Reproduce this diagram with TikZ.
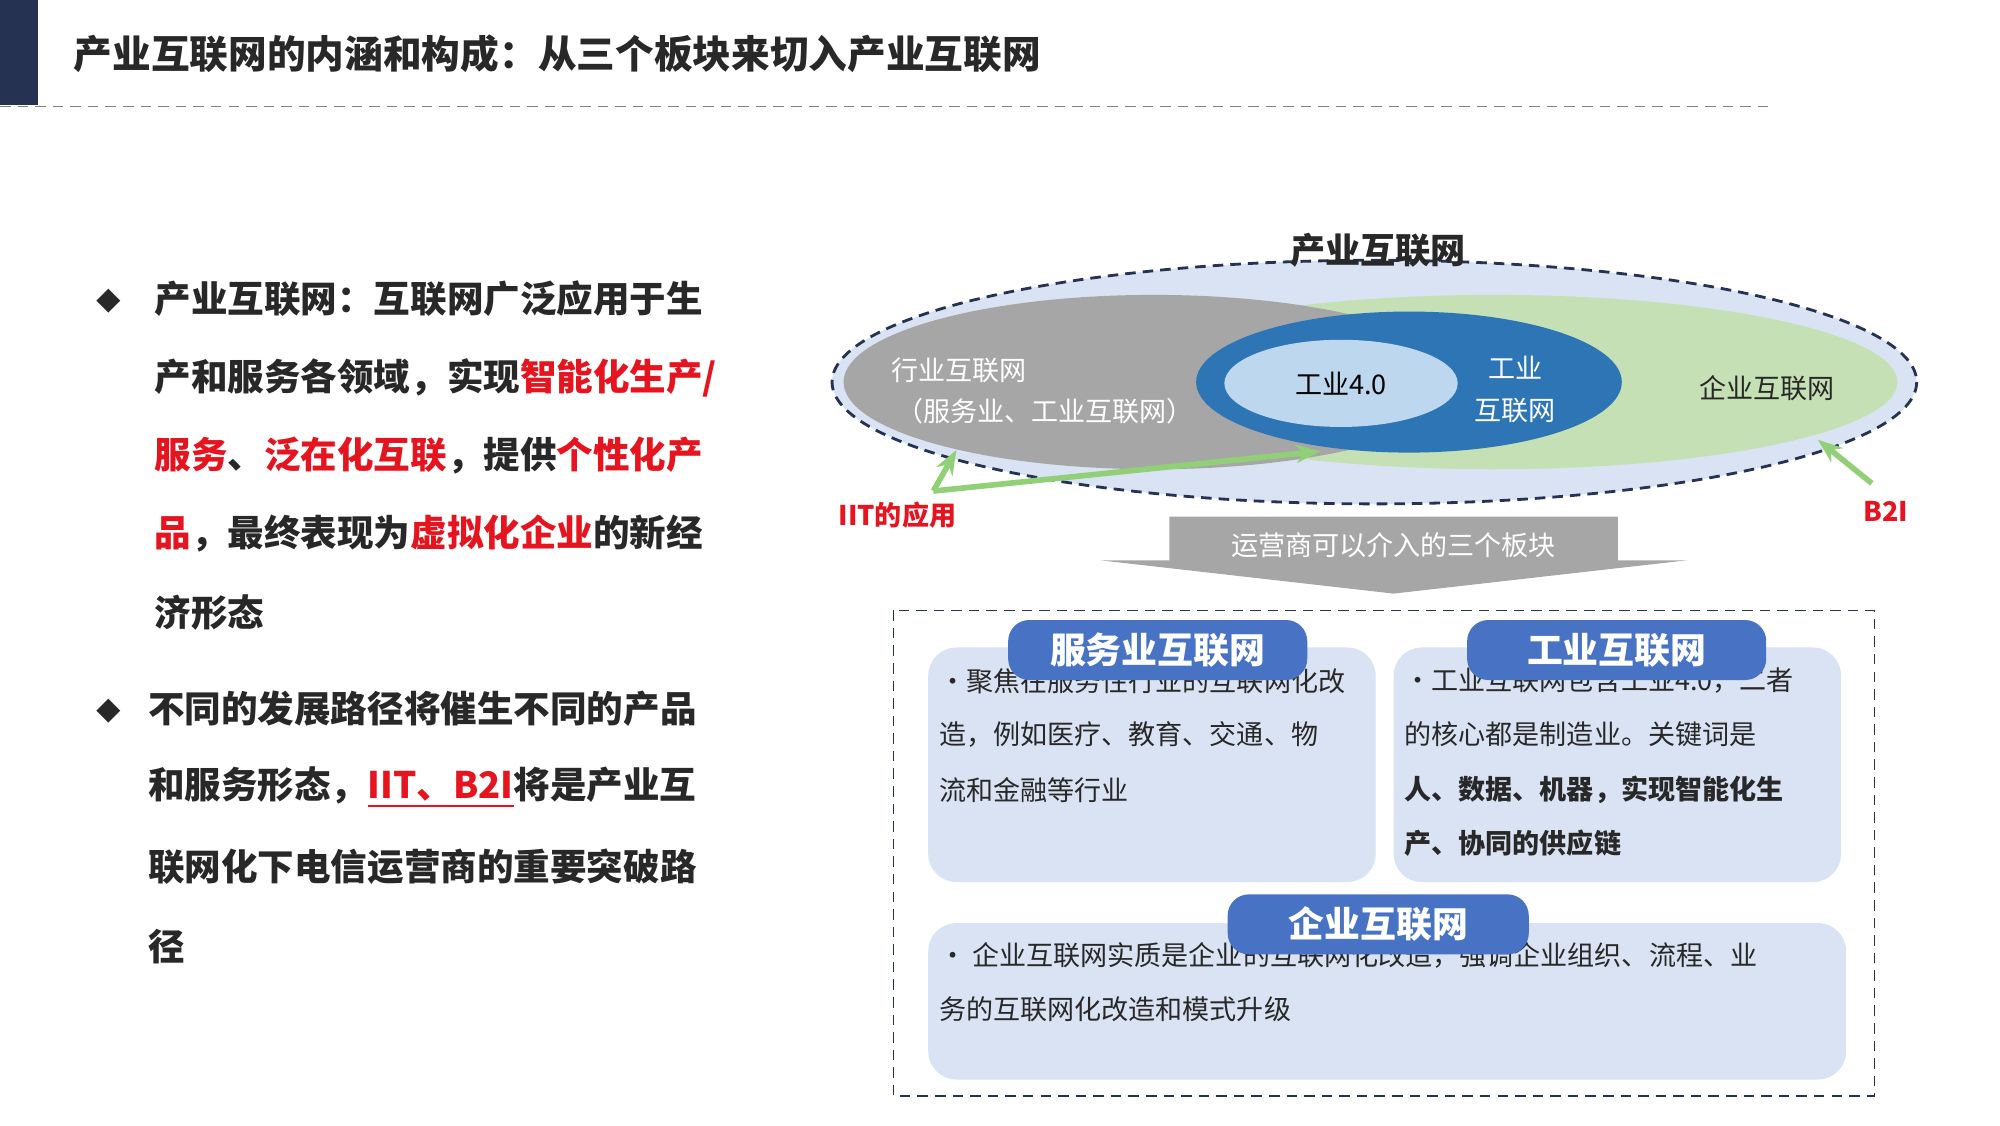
\documentclass[tikz,border=0pt]{standalone}
\usepackage{fontspec}
\setmainfont{Noto Sans CJK SC}
\usetikzlibrary{positioning,arrows.meta}
\definecolor{navy}{RGB}{38,50,82}
\definecolor{paleblue}{RGB}{218,227,243}
\definecolor{midblue}{RGB}{46,117,182}
\definecolor{lightblue}{RGB}{189,215,238}
\definecolor{tabblue}{RGB}{72,114,196}
\definecolor{greyfill}{RGB}{166,166,166}
\definecolor{palegreen}{RGB}{197,224,180}
\definecolor{arrowgreen}{RGB}{146,208,120}
\definecolor{hotred}{RGB}{230,20,30}
\definecolor{textgrey}{RGB}{40,40,40}
\newcommand{\hl}[1]{\textcolor{hotred}{#1}}

\begin{document}
\begin{tikzpicture}[x=0.01282cm,y=-0.01282cm,
  bodytext/.style={anchor=west,inner sep=0,font=\fontsize{10.4}{12}\selectfont\bfseries,text=textgrey},
  paneltext/.style={anchor=west,inner sep=0,font=\fontsize{7.7}{9}\selectfont,text=textgrey},
  ovaltext/.style={inner sep=0,font=\fontsize{7.7}{9}\selectfont},
  panel/.style={fill=paleblue,rounded corners=8},
  tab/.style={fill=tabblue,rounded corners=6,text=white,font=\fontsize{10.2}{12}\selectfont\bfseries},
  greenarrow/.style={draw=arrowgreen,line width=1.6pt,-{Stealth[length=7pt]}}]

  \useasboundingbox (0,0) rectangle (1560,877.5);

  % header
  \fill[navy] (0,0) rectangle (30,82);
  \draw[gray,densely dashed,thin] (0,83) -- (1380,83);
  \node[anchor=west,font=\fontsize{11}{13}\selectfont\bfseries,text=textgrey] (title) at (48,42)
    {产业互联网的内涵和构成：从三个板块来切入产业互联网};

  % left bullets
  \node[font=\fontsize{7}{9}\selectfont,text=textgrey] (b1) at (85,235) {◆};
  \node[bodytext] (l1) at (120,233) {产业互联网：互联网广泛应用于生};
  \node[bodytext] (l2) at (120,295) {产和服务各领域，实现\hl{智能化生产/}};
  \node[bodytext] (l3) at (120,355) {\hl{服务}、\hl{泛在化互联}，提供\hl{个性化产}};
  \node[bodytext] (l4) at (120,416) {\hl{品}，最终表现为\hl{虚拟化企业}的新经};
  \node[bodytext] (l5) at (120,478) {济形态};
  \node[font=\fontsize{7}{9}\selectfont,text=textgrey] (b2) at (85,555) {◆};
  \node[bodytext] (m1) at (115,553) {不同的发展路径将催生不同的产品};
  \node[bodytext] (m2) at (115,614) {和服务形态，\hl{\underline{IIT、B2I}}将是产业互};
  \node[bodytext] (m3) at (115,676) {联网化下电信运营商的重要突破路};
  \node[bodytext] (m4) at (115,738) {径};

  % ovals
  \draw[fill=paleblue,draw=navy,densely dashed,thick] (1072,298) ellipse [x radius=423,y radius=95];
  \fill[palegreen] (1165,298) ellipse [x radius=315,y radius=68];
  \fill[greyfill] (900,298) ellipse [x radius=242,y radius=68];
  \fill[midblue] (1099,298) ellipse [x radius=166,y radius=55];
  \fill[lightblue] (1046,299) ellipse [x radius=91,y radius=34];
  \node[font=\fontsize{10}{12}\selectfont\bfseries,text=textgrey] (whole) at (1075,195) {产业互联网};
  \node[ovaltext,text=white] (hangye) at (748,289) {行业互联网};
  \node[ovaltext,text=white] (hangye2) at (815,321) {（服务业、工业互联网）};
  \node[ovaltext,text=black] (gy40) at (1046,299) {工业4.0};
  \node[ovaltext,text=white,align=center,font=\fontsize{7.7}{12}\selectfont] (gyhl) at (1182,304) {工业\\互联网};
  \node[ovaltext,text=textgrey] (qyhl) at (1378,303) {企业互联网};

  % arrows to the ovals
  \coordinate (iitv) at (728,383);
  \coordinate (iita) at (746,351);
  \coordinate (iitb) at (1030,352);
  \coordinate (b2ifoot) at (1460,377);
  \coordinate (b2ihead) at (1418,343);
  \draw[greenarrow] (iitv) -- (iita);
  \draw[greenarrow] (iitv) -- (iitb);
  \draw[greenarrow] (b2ifoot) -- (b2ihead);
  \node[ovaltext,text=hotred,font=\fontsize{7.7}{9}\selectfont\bfseries] (iit) at (700,402) {IIT的应用};
  \node[ovaltext,text=hotred,font=\fontsize{7.7}{9}\selectfont\bfseries] (b2i) at (1471,399) {B2I};

  % big down arrow
  \fill[greyfill] (912,403) -- (1262,403) -- (1262,437) -- (1316,437) -- (1087,463)
    -- (858,437) -- (912,437) -- cycle;
  \node[ovaltext,text=white] (three) at (1087,425) {运营商可以介入的三个板块};

  % panels
  \draw[navy,densely dashed] (697,476) rectangle (1462,855);
  \fill[panel] (724,505) rectangle (1073,688);
  \fill[panel] (1087,505) rectangle (1436,688);
  \fill[panel] (724,720) rectangle (1440,842);

  \node[paneltext] (p1a) at (732,531) {•聚焦在服务性行业的互联网化改};
  \node[paneltext] (p1b) at (732,573) {造，例如医疗、教育、交通、物};
  \node[paneltext] (p1c) at (732,616) {流和金融等行业};
  \node[paneltext] (p2a) at (1095,531) {•工业互联网包含工业4.0，二者};
  \node[paneltext] (p2b) at (1095,573) {的核心都是制造业。关键词是};
  \node[paneltext,font=\fontsize{7.7}{9}\selectfont\bfseries] (p2c) at (1095,616) {人、数据、机器，实现智能化生};
  \node[paneltext,font=\fontsize{7.7}{9}\selectfont\bfseries] (p2d) at (1095,658) {产、协同的供应链};
  \node[paneltext] (p3a) at (732,745) {• 企业互联网实质是企业的互联网化改造，强调企业组织、流程、业};
  \node[paneltext] (p3b) at (732,787) {务的互联网化改造和模式升级};

  \node[tab,minimum width=2.99cm,minimum height=0.6cm] (tab1) at (903,507) {服务业互联网};
  \node[tab,minimum width=2.99cm,minimum height=0.6cm] (tab2) at (1261,507) {工业互联网};
  \node[tab,minimum width=3.01cm,minimum height=0.6cm] (tab3) at (1075,721) {企业互联网};
\end{tikzpicture}
\end{document}
